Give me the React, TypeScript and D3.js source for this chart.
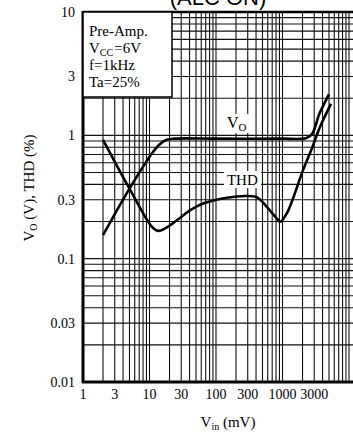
import { useEffect, useRef } from 'react';
import * as d3 from 'd3';

// Vo vs Vin
const vinVo = [2, 5, 11, 14, 18, 24, 100, 1000, 2300, 2800, 3600, 5000];
const vo = [0.155, 0.37, 0.72, 0.84, 0.92, 0.94, 0.94, 0.94, 0.95, 1.03, 1.5, 2.15];

// THD vs Vin
const vinThd = [2, 5, 11, 13.5, 20, 29, 40, 64, 146, 290, 415, 585, 830, 920, 1170, 2030, 2780, 3660, 5360];
const thd = [0.92, 0.37, 0.18, 0.168, 0.185, 0.215, 0.245, 0.28, 0.312, 0.322, 0.314, 0.262, 0.21, 0.199, 0.235, 0.52, 0.79, 1.17, 1.8];

const xTicks = [1, 3, 10, 30, 100, 300, 1000, 3000];
const yTicks = [10, 3, 1, 0.3, 0.1, 0.03, 0.01];
const yTickLabels = ['10', '3', '1', '0.3', '0.1', '0.03', '0.01'];

const W = 353;
const H = 434;
const FONT = '"Liberation Serif", "Times New Roman", serif';

export default function App() {
  const svgRef = useRef<SVGSVGElement>(null);

  useEffect(() => {
    if (!svgRef.current) return;
    const svg = d3.select(svgRef.current);
    svg.selectAll('*').remove();

    const x = d3.scaleLog().domain([1, 10000]).range([83, 349]);
    const y = d3.scaleLog().domain([0.01, 10]).range([382, 12]);

    // title, cut off at the top as in the scan
    svg.append('text')
      .attr('x', 218)
      .attr('y', 5)
      .attr('text-anchor', 'middle')
      .attr('font-family', '"Liberation Sans", Arial, sans-serif')
      .attr('font-size', 22)
      .text('(ALC ON)');

    // grid
    const gx: number[] = [];
    for (let p = 0; p < 4; p++) for (let m = 1; m <= 9; m++) gx.push(m * 10 ** p);
    gx.push(10000);
    const gy: number[] = [];
    for (let p = -2; p < 1; p++) for (let m = 1; m <= 9; m++) gy.push(+(m * 10 ** p).toPrecision(3));
    gy.push(10);

    const grid = svg.append('g').attr('stroke', '#111').attr('stroke-width', 1.1);
    grid.selectAll('line.v')
      .data(gx)
      .enter()
      .append('line')
      .attr('x1', (d) => x(d))
      .attr('x2', (d) => x(d))
      .attr('y1', y(10))
      .attr('y2', y(0.01));
    grid.selectAll('line.h')
      .data(gy)
      .enter()
      .append('line')
      .attr('x1', x(1))
      .attr('x2', W)
      .attr('y1', (d) => y(d))
      .attr('y2', (d) => y(d));

    // frame
    svg.append('line').attr('x1', x(1)).attr('x2', W).attr('y1', y(10)).attr('y2', y(10))
      .attr('stroke', '#000').attr('stroke-width', 2.5);
    svg.append('line').attr('x1', x(1) - 1).attr('x2', W).attr('y1', y(0.01)).attr('y2', y(0.01))
      .attr('stroke', '#000').attr('stroke-width', 3);
    svg.append('line').attr('x1', x(1)).attr('x2', x(1)).attr('y1', y(10) - 1).attr('y2', y(0.01) + 1)
      .attr('stroke', '#000').attr('stroke-width', 3);

    // legend box
    svg.append('rect')
      .attr('x', x(1))
      .attr('y', y(10))
      .attr('width', 89)
      .attr('height', 85)
      .attr('fill', '#fff')
      .attr('stroke', '#000')
      .attr('stroke-width', 1.5);
    const leg = svg.append('g').attr('font-family', FONT).attr('font-size', 15);
    leg.append('text').attr('x', 89).attr('y', 36).text('Pre-Amp.');
    const vcc = leg.append('text').attr('x', 89).attr('y', 53);
    vcc.append('tspan').text('V');
    vcc.append('tspan').attr('font-size', 10).attr('dy', 3).text('CC');
    vcc.append('tspan').attr('dy', -3).attr('dx', 1).text('=6V');
    leg.append('text').attr('x', 89).attr('y', 70).text('f=1kHz');
    leg.append('text').attr('x', 89).attr('y', 87).text('Ta=25%');

    // curve labels with white backing
    svg.append('rect').attr('x', 224).attr('y', 114).attr('width', 28).attr('height', 19).attr('fill', '#fff');
    svg.append('rect').attr('x', 224).attr('y', 171).attr('width', 37).attr('height', 17).attr('fill', '#fff');
    const voLab = svg.append('text')
      .attr('x', x(146))
      .attr('y', y(1.14))
      .attr('font-family', FONT)
      .attr('font-size', 16);
    voLab.append('tspan').text('V');
    voLab.append('tspan').attr('font-size', 11).attr('dy', 3).text('O');
    svg.append('text')
      .attr('x', x(146))
      .attr('y', y(0.396))
      .attr('font-family', FONT)
      .attr('font-size', 15)
      .text('THD');

    // curves
    const line = d3.line<[number, number]>()
      .x((d) => x(d[0]))
      .y((d) => y(d[1]))
      .curve(d3.curveCatmullRom.alpha(0.5));
    const voPts = vinVo.map((v, i) => [v, vo[i]] as [number, number]);
    const thdPts = vinThd.map((v, i) => [v, thd[i]] as [number, number]);
    svg.append('path').attr('d', line(voPts))
      .attr('fill', 'none').attr('stroke', '#000').attr('stroke-width', 2.6);
    svg.append('path').attr('d', line(thdPts))
      .attr('fill', 'none').attr('stroke', '#000').attr('stroke-width', 2.6);

    // x tick labels
    svg.append('g')
      .attr('font-family', FONT)
      .attr('font-size', 14)
      .attr('text-anchor', 'middle')
      .selectAll('text')
      .data(xTicks)
      .enter()
      .append('text')
      .attr('x', (d) => x(d))
      .attr('y', 399)
      .text((d) => String(d));

    // y tick labels
    svg.append('g')
      .attr('font-family', FONT)
      .attr('font-size', 14)
      .attr('text-anchor', 'end')
      .selectAll('text')
      .data(yTicks)
      .enter()
      .append('text')
      .attr('x', 75)
      .attr('y', (d) => y(d) + 5)
      .text((_, i) => yTickLabels[i]);

    // x title
    const xt = svg.append('text')
      .attr('x', 228)
      .attr('y', 427)
      .attr('text-anchor', 'middle')
      .attr('font-family', FONT)
      .attr('font-size', 15);
    xt.append('tspan').text('V');
    xt.append('tspan').attr('font-size', 10).attr('dy', 3).text('in');
    xt.append('tspan').attr('dy', -3).text(' (mV)');

    // y title
    const yt = svg.append('text')
      .attr('transform', 'translate(34,188) rotate(-90)')
      .attr('text-anchor', 'middle')
      .attr('font-family', FONT)
      .attr('font-size', 15);
    yt.append('tspan').text('V');
    yt.append('tspan').attr('font-size', 10).attr('dy', 3).text('O');
    yt.append('tspan').attr('dy', -3).text(' (V), THD (%)');
  }, []);

  return (
    <svg
      ref={svgRef}
      width={W}
      height={H}
      style={{ position: 'absolute', left: 0, top: 0, background: '#fff' }}
    />
  );
}
